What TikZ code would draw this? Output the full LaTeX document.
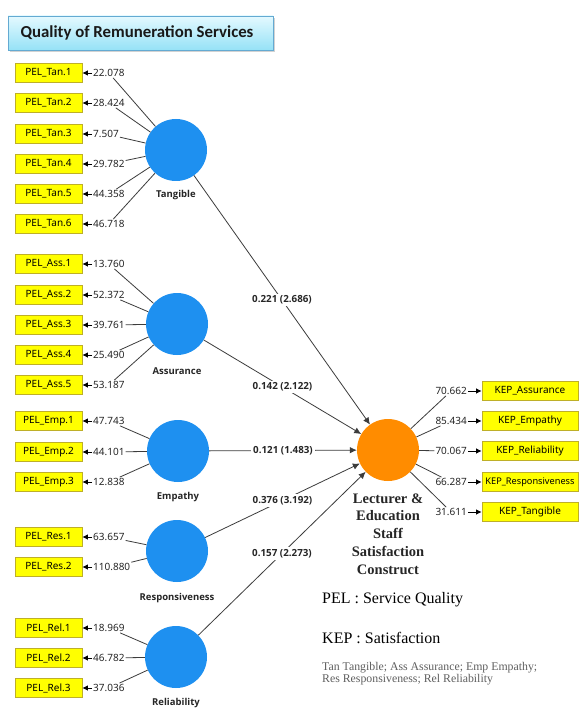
\documentclass[tikz,border=0pt]{standalone}
\usepackage{fontspec}
\setmainfont{Liberation Serif}
\newfontfamily\noto{Noto Sans}
\newfontfamily\osb{Open Sans}
\newfontfamily\carl{Carlito}
\usetikzlibrary{arrows.meta,shadows,calc}
\definecolor{lvblue}{RGB}{30,144,240}
\definecolor{lvorange}{RGB}{255,140,0}
\definecolor{indy}{RGB}{255,255,0}
\definecolor{indyborder}{RGB}{190,175,40}
\definecolor{linegray}{RGB}{60,60,60}
\definecolor{titleborder}{RGB}{100,170,210}
\definecolor{titletop}{RGB}{228,249,255}
\definecolor{titlebot}{RGB}{150,226,246}
\definecolor{abbrgray}{RGB}{95,95,95}
\begin{document}
\begin{tikzpicture}[x=1pt,y=-1pt,
  ind/.style={draw=indyborder, fill=indy, line width=0.8pt, minimum width=67pt, minimum height=19pt, inner sep=0pt, font=\noto\fontsize{10}{12}\selectfont},
  kep/.style={ind, minimum width=96pt},
  lat/.style={circle, fill=lvblue, minimum size=62pt, inner sep=0pt},
  latlab/.style={font=\osb\bfseries\fontsize{9.5}{11}\selectfont, text=black!85},
  num/.style={inner sep=1pt, font=\noto\fontsize{10}{12}\selectfont, text=black!85},
  ld/.style={draw=linegray, line width=0.8pt},
  arr/.style={draw=black, line width=0.8pt, -{Latex[length=5.5pt,width=5.5pt]}},
  sarr/.style={draw=linegray, line width=0.8pt, -{Latex[length=7pt,width=6.5pt]}},
  coef/.style={fill=white, inner sep=2pt, font=\osb\bfseries\fontsize{9.8}{12}\selectfont, text=black!85}
]
\clip (0,0) rectangle (579,711);
\fill[white] (0,0) rectangle (579,711);

% title
\node[draw=titleborder, line width=0.8pt, top color=titletop, bottom color=titlebot,
      minimum width=265pt, minimum height=34pt, inner sep=0pt,
      drop shadow={shadow xshift=2pt, shadow yshift=-2pt, opacity=0.35}] (title) at (140.5,33) {};
\node[font=\carl\bfseries\fontsize{16.8}{19}\selectfont, text=black!90, inner sep=0pt] (titletext) at (137,33) {Quality of Remuneration Services};

% latent variables
\node[lat] (tan) at (176,150) {};
\node[latlab] (tanl) at (176,195) {Tangible};
\node[lat] (ass) at (177,324) {};
\node[latlab] (assl) at (177,371) {Assurance};
\node[lat] (emp) at (178,451) {};
\node[latlab] (empl) at (178,497) {Empathy};
\node[lat] (res) at (177,551) {};
\node[latlab] (resl) at (177,598) {Responsiveness};
\node[lat] (rel) at (176,657) {};
\node[latlab] (rell) at (176,703) {Reliability};
\node[circle, fill=lvorange, minimum size=62pt, inner sep=0pt] (lec) at (388,450) {};
\node[font=\bfseries\fontsize{14.5}{17.8}\selectfont, align=center, inner sep=0pt, text=black!85] (lecl) at (388,534) {Lecturer \&\\Education\\Staff\\Satisfaction\\Construct};

% indicators
\foreach \i/\y/\v in {1/73/22.078, 2/103/28.424, 3/134/7.507, 4/164/29.782, 5/194/44.358, 6/224/46.718} {
  \node[ind] (tan\i) at (48.5,\y) {PEL\_Tan.\i};
  \node[num, anchor=west] (tann\i) at (92,\y) {\v};
  \draw[ld] (tan) -- (tann\i);
  \draw[arr] (tann\i) -- (tan\i);
}
\foreach \i/\y/\v in {1/264/13.760, 2/295/52.372, 3/325/39.761, 4/355/25.490, 5/385/53.187} {
  \node[ind] (ass\i) at (48.5,\y) {PEL\_Ass.\i};
  \node[num, anchor=west] (assn\i) at (92,\y) {\v};
  \draw[ld] (ass) -- (assn\i);
  \draw[arr] (assn\i) -- (ass\i);
}
\foreach \i/\y/\v in {1/421/47.743, 2/452/44.101, 3/482/12.838} {
  \node[ind] (emp\i) at (48.5,\y) {PEL\_Emp.\i};
  \node[num, anchor=west] (empn\i) at (92,\y) {\v};
  \draw[ld] (emp) -- (empn\i);
  \draw[arr] (empn\i) -- (emp\i);
}
\foreach \i/\y/\v in {1/537/63.657, 2/567/110.880} {
  \node[ind] (res\i) at (48.5,\y) {PEL\_Res.\i};
  \node[num, anchor=west] (resn\i) at (92,\y) {\v};
  \draw[ld] (res) -- (resn\i);
  \draw[arr] (resn\i) -- (res\i);
}
\foreach \i/\y/\v in {1/628/18.969, 2/658/46.782, 3/688/37.036} {
  \node[ind] (rel\i) at (48.5,\y) {PEL\_Rel.\i};
  \node[num, anchor=west] (reln\i) at (92,\y) {\v};
  \draw[ld] (rel) -- (reln\i);
  \draw[arr] (reln\i) -- (rel\i);
}
\foreach \y/\t/\v/\fs in {391/Assurance/70.662/10, 421/Empathy/85.434/10, 451/Reliability/70.067/10, 482/Responsiveness/66.287/9.2, 512/Tangible/31.611/10} {
  \node[kep, font=\noto\fontsize{\fs}{12}\selectfont] (k\t) at (530,\y) {KEP\_\t};
  \node[num, anchor=east] (kn\t) at (468,\y) {\v};
  \draw[ld] (lec) -- (kn\t);
  \draw[arr] (kn\t) -- (k\t);
}

% structural paths
\draw[sarr] (tan) -- node[coef, midway] {0.221 (2.686)} (lec);
\draw[sarr] (ass) -- node[coef, midway] {0.142 (2.122)} (lec);
\draw[sarr] (emp) -- node[coef, midway] {0.121 (1.483)} (lec);
\draw[sarr] (res) -- node[coef, midway] {0.376 (3.192)} (lec);
\draw[sarr] (rel) -- node[coef, midway] {0.157 (2.273)} (lec);

% legend
\node[anchor=base west, inner sep=0pt, font=\fontsize{16}{19}\selectfont] (pel) at (322,603.5) {PEL : Service Quality};
\node[anchor=base west, inner sep=0pt, font=\fontsize{16}{19}\selectfont] (kepl) at (322,643.5) {KEP : Satisfaction};
\node[anchor=base west, inner sep=0pt, font=\fontsize{11.8}{13}\selectfont, text=abbrgray] (abbr1) at (322,670) {Tan Tangible; Ass Assurance; Emp Empathy;};
\node[anchor=base west, inner sep=0pt, font=\fontsize{11.8}{13}\selectfont, text=abbrgray] (abbr2) at (322,682) {Res Responsiveness; Rel Reliability};
\end{tikzpicture}
\end{document}
